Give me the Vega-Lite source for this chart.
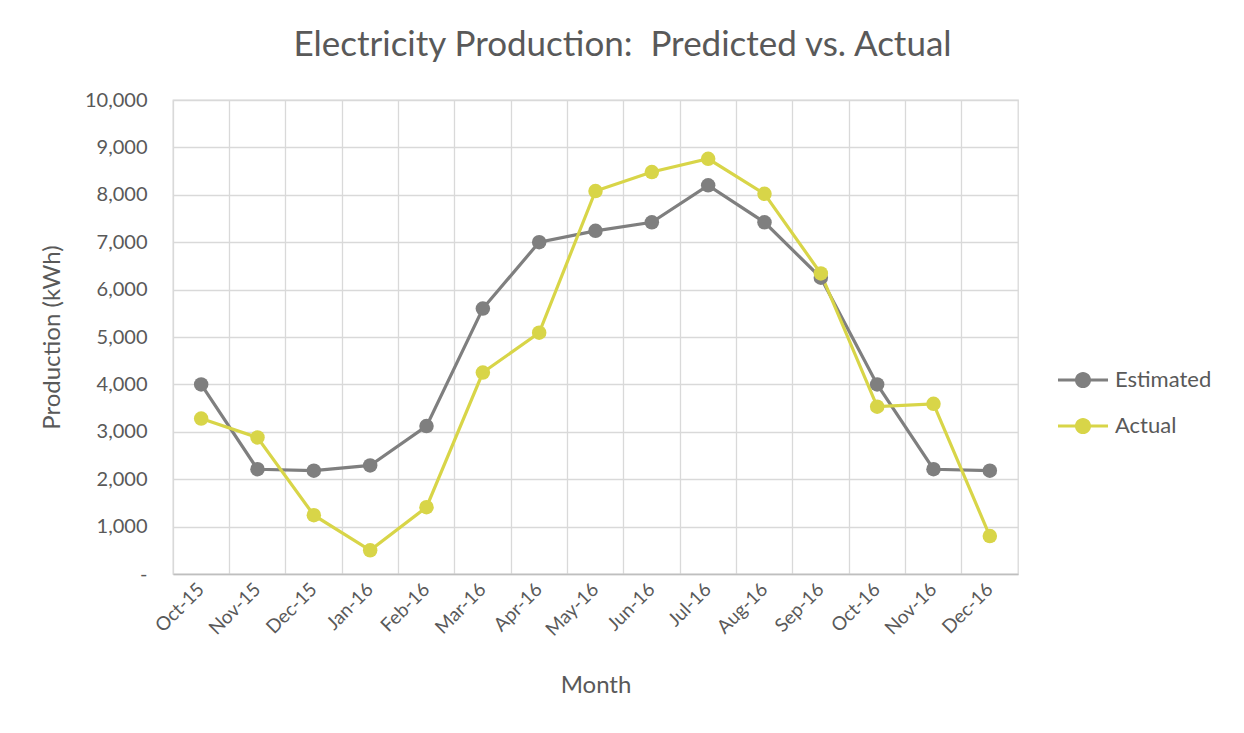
{
  "$schema": "https://vega.github.io/schema/vega-lite/v6.json",
  "width": 845,
  "height": 474,
  "autosize": {"type": "none"},
  "padding": {"left": 173, "top": 100, "right": 226, "bottom": 159},
  "background": "white",
  "title": {
    "text": "Electricity Production:\u00a0 Predicted vs. Actual",
    "font": "Lato",
    "fontSize": 35,
    "fontWeight": "normal",
    "color": "#595959",
    "anchor": "middle",
    "dx": 27,
    "offset": 27
  },
  "config": {
    "view": {"stroke": "#d9d9d9", "strokeWidth": 1.3},
    "font": "Lato",
    "axis": {
      "labelFont": "Lato",
      "titleFont": "Lato",
      "labelColor": "#595959",
      "titleColor": "#595959",
      "labelFontSize": 19,
      "titleFontSize": 24,
      "titleFontWeight": "normal",
      "gridColor": "#d9d9d9",
      "gridWidth": 1.3,
      "ticks": false
    },
    "legend": {"labelFont": "Lato"}
  },
  "data": {
    "values": [
      {"month": "Oct-15", "series": "Estimated", "value": 4000},
      {"month": "Nov-15", "series": "Estimated", "value": 2210},
      {"month": "Dec-15", "series": "Estimated", "value": 2180},
      {"month": "Jan-16", "series": "Estimated", "value": 2290},
      {"month": "Feb-16", "series": "Estimated", "value": 3120},
      {"month": "Mar-16", "series": "Estimated", "value": 5600},
      {"month": "Apr-16", "series": "Estimated", "value": 7000},
      {"month": "May-16", "series": "Estimated", "value": 7240},
      {"month": "Jun-16", "series": "Estimated", "value": 7420},
      {"month": "Jul-16", "series": "Estimated", "value": 8200},
      {"month": "Aug-16", "series": "Estimated", "value": 7420},
      {"month": "Sep-16", "series": "Estimated", "value": 6250},
      {"month": "Oct-16", "series": "Estimated", "value": 4000},
      {"month": "Nov-16", "series": "Estimated", "value": 2210},
      {"month": "Dec-16", "series": "Estimated", "value": 2180},
      {"month": "Oct-15", "series": "Actual", "value": 3280},
      {"month": "Nov-15", "series": "Actual", "value": 2880},
      {"month": "Dec-15", "series": "Actual", "value": 1240},
      {"month": "Jan-16", "series": "Actual", "value": 500},
      {"month": "Feb-16", "series": "Actual", "value": 1410},
      {"month": "Mar-16", "series": "Actual", "value": 4250},
      {"month": "Apr-16", "series": "Actual", "value": 5090},
      {"month": "May-16", "series": "Actual", "value": 8080},
      {"month": "Jun-16", "series": "Actual", "value": 8480},
      {"month": "Jul-16", "series": "Actual", "value": 8760},
      {"month": "Aug-16", "series": "Actual", "value": 8020},
      {"month": "Sep-16", "series": "Actual", "value": 6340},
      {"month": "Oct-16", "series": "Actual", "value": 3530},
      {"month": "Nov-16", "series": "Actual", "value": 3590},
      {"month": "Dec-16", "series": "Actual", "value": 800}
    ]
  },
  "layer": [
    {
      "mark": {"type": "line", "strokeWidth": 3.2},
      "encoding": {
        "x": {
          "field": "month", "type": "ordinal", "sort": null,
          "scale": {"type": "band", "paddingInner": 0, "paddingOuter": 0},
          "axis": {"bandPosition": 0, "grid": true, "labels": false, "domain": false, "title": null, "orient": "bottom"}
        },
        "y": {
          "field": "value", "type": "quantitative",
          "scale": {"domain": [0, 10000], "nice": false},
          "axis": {
            "values": [0, 1000, 2000, 3000, 4000, 5000, 6000, 7000, 8000, 9000, 10000],
            "labelExpr": "datum.value == 0 ? '-' : format(datum.value, ',')",
            "labelFontSize": 20,
            "domain": false,
            "labelPadding": 26,
            "title": "Production (kWh)",
            "titlePadding": 20
          }
        },
        "color": {
          "field": "series", "type": "nominal",
          "scale": {"domain": ["Estimated", "Actual"], "range": ["#7f7f7f", "#d8d548"]},
          "legend": {
            "title": null,
            "orient": "none",
            "legendX": 888,
            "legendY": 258,
            "symbolType": "M-1.15,-0.07L1.15,-0.07L1.15,0.07L-1.15,0.07Z M-0.37,0A0.37,0.37,0,1,1,0.37,0A0.37,0.37,0,1,1,-0.37,0Z",
            "symbolSize": 1892,
            "rowPadding": 13,
            "labelFontSize": 22,
            "labelColor": "#595959",
            "labelOffset": 10,
            "encode": {
              "symbols": {
                "update": {
                  "fill": {"scale": "color", "field": "value"},
                  "strokeWidth": {"value": 0},
                  "opacity": {"value": 1}
                }
              }
            }
          }
        },
        "detail": {"field": "series"}
      }
    },
    {
      "mark": {"type": "point", "filled": true, "size": 210, "opacity": 1},
      "encoding": {
        "x": {
          "field": "month", "type": "ordinal", "sort": null,
          "axis": {"grid": false, "domain": true, "domainColor": "#bfbfbf", "domainWidth": 1.3, "labelAngle": -45, "labelAlign": "right", "labelBaseline": "middle", "labelPadding": 12, "title": "Month", "titlePadding": 34, "orient": "bottom"}
        },
        "y": {"field": "value", "type": "quantitative"},
        "color": {"field": "series", "type": "nominal"}
      }
    }
  ],
  "resolve": {"axis": {"x": "independent"}}
}
